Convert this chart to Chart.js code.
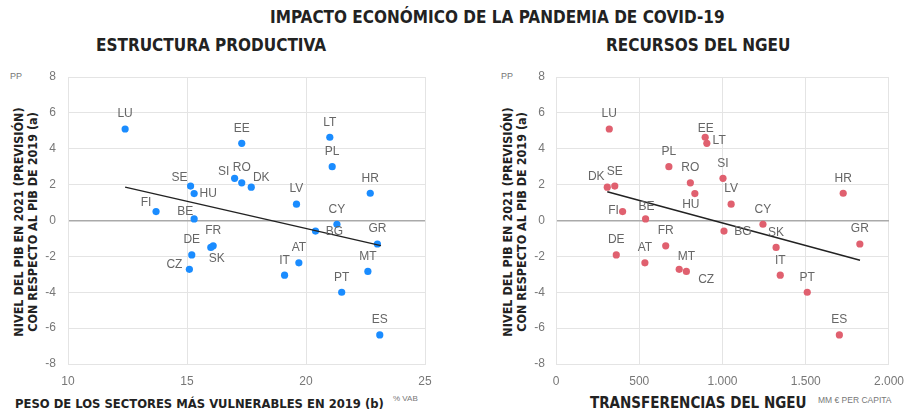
<!DOCTYPE html>
<html>
<head>
<meta charset="utf-8">
<script src="https://cdn.jsdelivr.net/npm/chart.js@4.4.1/dist/chart.umd.min.js"></script>
<style>
  body { margin: 0; background: #fff; width: 914px; height: 409px; overflow: hidden; position: relative; }
  .txt { position: absolute; white-space: nowrap; font-family: "DejaVu Sans Condensed", "Liberation Sans", Arial, sans-serif; color: #222; }
  .b { font-weight: bold; }
  .small { font-family: "Liberation Sans", Arial, sans-serif; color: #777; }
  .ytitle { width: 280px; height: 28px; line-height: 14px; font-size: 12.5px; text-align: center; transform: rotate(-90deg); }
  .box { position: absolute; top: 0; height: 409px; }
</style>
</head>
<body>
<div class="txt b" style="left:270px; top:7px; font-size:17px; line-height:20px;">IMPACTO ECONÓMICO DE LA PANDEMIA DE COVID-19</div>
<div class="txt b" style="left:96px; top:35px; font-size:17px; line-height:20px;">ESTRUCTURA PRODUCTIVA</div>
<div class="txt b" style="left:606px; top:35px; font-size:17px; line-height:20px;">RECURSOS DEL NGEU</div>

<div class="txt small" style="left:10px; top:71px; font-size:9px;">PP</div>
<div class="txt small" style="left:501px; top:71px; font-size:9px;">PP</div>

<div class="txt b ytitle" style="left:-114px; top:208px;">NIVEL DEL PIB EN 2021 (PREVISIÓN)<br>CON RESPECTO AL PIB DE 2019 (a)</div>
<div class="txt b ytitle" style="left:375px; top:208px;">NIVEL DEL PIB EN 2021 (PREVISIÓN)<br>CON RESPECTO AL PIB DE 2019 (a)</div>

<div class="txt b" style="left:15px; top:396px; font-size:12.9px; line-height:15px;">PESO DE LOS SECTORES MÁS VULNERABLES EN 2019 (b)</div>
<div class="txt small" style="left:393px; top:394px; font-size:8px;">% VAB</div>
<div class="txt b" style="left:590px; top:395px; font-size:15px; line-height:17px;">TRANSFERENCIAS DEL NGEU</div>
<div class="txt small" style="left:818px; top:395px; font-size:8.5px;">MM € PER CAPITA</div>

<div class="box" style="left:0; width:445px;"><canvas id="chartLeft"></canvas></div>
<div class="box" style="left:455px; width:459px;"><canvas id="chartRight"></canvas></div>

<script>
// countries, same order in every array
const countries = ['LU', 'EE', 'LT', 'PL', 'SI', 'RO', 'DK', 'SE', 'HU', 'HR', 'LV', 'FI', 'BE',
  'CY', 'BG', 'GR', 'FR', 'SK', 'DE', 'CZ', 'IT', 'AT', 'MT', 'PT', 'ES'];
// nivel del PIB 2021 vs 2019 (pp)
const gdpGap = [5.1, 4.3, 4.64, 3.0, 2.35, 2.1, 1.86, 1.92, 1.5, 1.52, 0.91, 0.5, 0.09,
  -0.21, -0.59, -1.31, -1.41, -1.5, -1.92, -2.72, -3.05, -2.36, -2.84, -4.0, -6.38];
// peso de los sectores más vulnerables (% VAB)
const vulnerableShare = [12.4, 17.3, 21.0, 21.1, 17.0, 17.3, 17.7, 15.15, 15.3, 22.7, 19.6, 13.7, 15.3,
  21.3, 20.4, 23.0, 16.1, 16.0, 15.2, 15.1, 19.1, 19.7, 22.6, 21.5, 23.1];
// transferencias NGEU (€ per capita)
const ngeuTransfers = [320, 906, 896, 678, 1003, 807, 308, 353, 834, 1725, 1052, 400, 538,
  1243, 1009, 1825, 659, 1322, 362, 740, 1347, 534, 783, 1509, 1702];
// tendencias (extremos de la recta)
const trendLeftX = [12.4, 23.15];
const trendLeftY = [1.86, -1.4];
const trendRightX = [308, 1826];
const trendRightY = [1.6, -2.22];
// ticks
const leftXTicks = [10, 15, 20, 25];
const rightXTicks = [0, 500, 1000, 1500, 2000];
const yTicks = [-8, -6, -4, -2, 0, 2, 4, 6, 8];

// label offsets (px) from each point; default is centered above
const labelOffsetLeft = {
  SI: [-11, -7], DK: [10, -9], SE: [-11, -8], HU: [14, 0], FI: [-10, -9], BE: [-9, -7],
  BG: [19, 1], SK: [6, 11], CZ: [-15, -5]
};
const labelOffsetRight = {
  EE: [-1, -15], LT: [14, 3], HU: [-4, 11], DK: [-11, -10], SE: [0, -14], FI: [-9, -1],
  BE: [1, -12], BG: [19, 1], CZ: [27, 10]
};

const fmtThousands = v => v >= 1000 ? Math.floor(v / 1000) + '.' + String(v % 1000).padStart(3, '0') : String(v);

const pointLabels = {
  id: 'pointLabels',
  afterDatasetsDraw(chart, args, opts) {
    const ctx = chart.ctx;
    const meta = chart.getDatasetMeta(1);
    ctx.save();
    ctx.font = '12px "Liberation Sans", Arial, sans-serif';
    ctx.fillStyle = '#666';
    ctx.textAlign = 'center';
    ctx.textBaseline = 'middle';
    meta.data.forEach((el, i) => {
      const code = countries[i];
      const off = opts.offsets[code] || [0, -15];
      ctx.fillText(code, el.x + off[0], el.y + off[1]);
    });
    ctx.restore();
  }
};

function makeChart(id, xs, tX, tY, color, xMin, xMax, xTicks, xFmt, pad, yTickPad, offsets) {
  return new Chart(document.getElementById(id).getContext('2d'), {
    type: 'scatter',
    data: {
      datasets: [{
        data: tX.map((x, i) => ({ x: x, y: tY[i] })),
        showLine: true,
        borderColor: '#222',
        borderWidth: 1.5,
        pointRadius: 0
      }, {
        data: xs.map((x, i) => ({ x: x, y: gdpGap[i] })),
        backgroundColor: color,
        borderWidth: 0,
        pointRadius: 3.6
      }]
    },
    options: {
      responsive: true,
      maintainAspectRatio: false,
      animation: false,
      events: [],
      layout: { padding: pad },
      plugins: {
        legend: { display: false },
        tooltip: { enabled: false },
        pointLabels: { offsets: offsets }
      },
      scales: {
        x: {
          type: 'linear', min: xMin, max: xMax,
          afterFit(s) { s.height = 26; },
          afterBuildTicks(s) { s.ticks = xTicks.map(v => ({ value: v })); },
          grid: { color: '#e4e4e4', drawTicks: false },
          border: { color: '#e4e4e4' },
          ticks: { padding: 10, maxRotation: 0, color: '#777', font: { size: 12, family: '"Liberation Sans", Arial' }, callback: xFmt }
        },
        y: {
          min: -8, max: 8,
          afterFit(s) { s.width = 34; },
          afterBuildTicks(s) { s.ticks = yTicks.map(v => ({ value: v })); },
          grid: {
            drawTicks: false,
            color: c => c.tick && c.tick.value === 0 ? '#aaa' : '#e4e4e4',
            lineWidth: c => c.tick && c.tick.value === 0 ? 1.5 : 1
          },
          border: { color: '#e4e4e4' },
          ticks: { padding: yTickPad, color: '#777', font: { size: 12, family: '"Liberation Sans", Arial' } }
        }
      }
    },
    plugins: [pointLabels]
  });
}

makeChart('chartLeft', vulnerableShare, trendLeftX, trendLeftY, '#1a8cff', 10, 25, leftXTicks,
  v => String(v), { left: 34, right: 20, top: 77, bottom: 19 }, 12, labelOffsetLeft);
makeChart('chartRight', ngeuTransfers, trendRightX, trendRightY, '#e0606f', 0, 2000, rightXTicks,
  fmtThousands, { left: 67, right: 16, top: 77, bottom: 19 }, 11, labelOffsetRight);
</script>
</body>
</html>
